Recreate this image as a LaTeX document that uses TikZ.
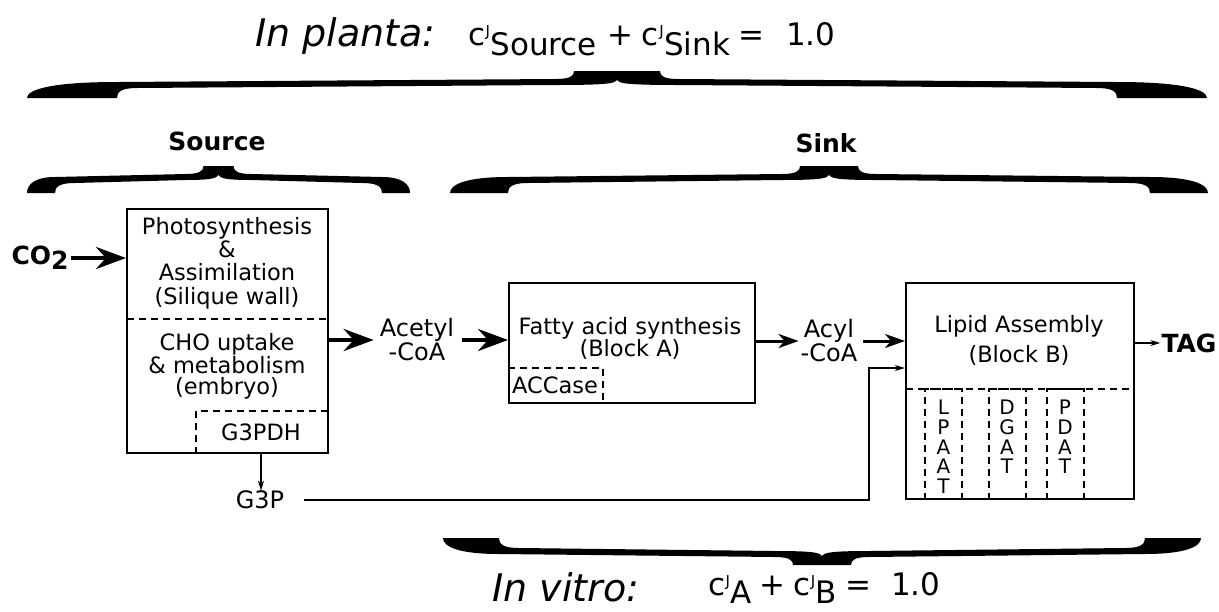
\documentclass[tikz,border=0pt]{standalone}
\usepackage{fontspec}
\setmainfont{DejaVu Sans}
\usetikzlibrary{arrows.meta}
\newcommand{\cJ}[1]{c\kern0.3pt\raisebox{9pt}{\fontsize{15}{15}\selectfont J}\kern0.5pt\raisebox{-10pt}{#1}}
\newcommand{\cJb}[1]{c\kern0.3pt\raisebox{9pt}{\fontsize{15}{15}\selectfont J}\kern0.5pt\raisebox{-8pt}{#1}}
% brace: x1, x2, xc, ybase, end width, tip half width, direction
\newcommand{\brc}[7]{%
\begin{scope}[shift={(0,#4)}, yscale=#7]
\fill ({#1},0) .. controls ({#1},9) and ({#1+0.3*#5},16) .. ({#1+#5},16)
 -- ({#3-#6-18},19) .. controls ({#3-#6-4},19) and ({#3-#6},22) .. ({#3-#6},27)
 -- ({#3+#6},27) .. controls ({#3+#6},22) and ({#3+#6+4},19) .. ({#3+#6+18},19)
 -- ({#2-#5},16) .. controls ({#2-0.3*#5},16) and ({#2},9) .. ({#2},0)
 -- ({#2-#5},0) .. controls ({#2-#5},6) and ({#2-#5-4},10) .. ({#2-#5-20},10)
 -- ({#3+#6+18},13) .. controls ({#3+6},13) and ({#3+2},15) .. ({#3},18)
 .. controls ({#3-2},15) and ({#3-6},13) .. ({#3-#6-18},13)
 -- ({#1+#5+20},10) .. controls ({#1+#5+4},10) and ({#1+#5},6) .. ({#1+#5},0) -- cycle;
\end{scope}}
\begin{document}
\begin{tikzpicture}[x=1pt,y=-1pt,
  box/.style={draw, line width=2pt, inner sep=0pt},
  dbox/.style={draw, line width=2pt, dash pattern=on 7pt off 5pt, inner sep=0pt},
  dline/.style={line width=2pt, dash pattern=on 7pt off 5pt},
  big/.style={line width=4.5pt, -{Stealth[length=30pt,width=22pt,inset=10pt]}},
  med/.style={line width=3pt, -{Stealth[length=20pt,width=14pt,inset=6pt]}},
  thin/.style={line width=1.3pt, -{Stealth[length=10pt,width=6pt,inset=3pt]}},
  lbl/.style={inner sep=0pt, font=\fontsize{22.5}{23.3}\selectfont, align=center},
  mol/.style={inner sep=0pt, font=\fontsize{24}{24}\selectfont, align=center},
  bold/.style={inner sep=0pt, font=\bfseries\fontsize{25}{25}\selectfont},
  letters/.style={inner sep=0pt, font=\fontsize{20}{19.7}\selectfont, align=center},
  eq/.style={inner sep=0pt, anchor=base west, font=\fontsize{31}{31}\selectfont},
  title/.style={inner sep=0pt, anchor=base west, font=\itshape\fontsize{38}{38}\selectfont}]
\useasboundingbox (0,0) rectangle (1219,611);

% titles
\node[title] (inplanta) at (255,46) {In planta:};
\node[eq] (fplanta) at (468,45) {\cJ{Source}\kern11pt+\kern8pt\cJ{Sink}\kern8pt=\kern22pt1.0};
\node[title] (invitro) at (492,601) {In vitro:};
\node[eq] (fvitro) at (708,595) {\cJb{A}\kern8pt+\kern8pt\cJb{B}\kern8pt=\kern20pt1.0};

% braces
\brc{27}{1207}{617}{98}{90}{43}{-1}
\brc{27}{410}{218.5}{193}{28}{15}{-1}
\brc{450}{1208}{829}{193}{58}{29}{-1}
\brc{443}{1201}{822}{538}{56}{29}{1}

\node[bold] (srclbl) at (217,141) {Source};
\node[bold] (sinklbl) at (826,143) {Sink};

% boxes
\node[box, minimum width=201pt, minimum height=244pt] (ps) at (227.5,331) {};
\node[box, minimum width=246pt, minimum height=120pt] (fas) at (632,343) {};
\node[box, minimum width=228pt, minimum height=216pt] (lip) at (1020,391) {};

% box 1 content
\node[lbl] (pstxt) at (227,263) {Photosynthesis\\\&\\Assimilation\\(Silique wall)};
\coordinate (psdiv) at (127,319);
\draw[dline] (psdiv) -- (psdiv -| ps.east);
\node[lbl, font=\fontsize{22.5}{21}\selectfont] (chotxt) at (227,366) {CHO uptake\\\& metabolism\\(embryo)};
\coordinate (g3pdhc) at (196,411);
\draw[dline] (g3pdhc |- ps.south) -- (g3pdhc) -- (g3pdhc -| ps.east);
\node[lbl] (g3pdh) at (261,432) {G3PDH};

% box 2 content
\node[lbl, font=\fontsize{22.5}{22}\selectfont] (fastxt) at (630,338) {Fatty acid synthesis\\(Block A)};
\coordinate (accc) at (603,368);
\draw[dline] (accc -| fas.west) -- (accc) -- (accc |- fas.south);
\node[lbl] (accase) at (555,385) {ACCase};

% box 3 content
\node[lbl, font=\fontsize{22.5}{30}\selectfont] (liptxt) at (1019,340) {Lipid Assembly\\(Block B)};
\coordinate (lipdiv) at (906,389);
\draw[dline] (lipdiv) -- (lipdiv -| lip.east);
\node[dbox, minimum width=37pt, minimum height=110pt] (lpaat) at (943.5,444) {};
\node[dbox, minimum width=37pt, minimum height=110pt] (dgat) at (1007,444) {};
\node[dbox, minimum width=37pt, minimum height=110pt] (pdat) at (1065,444) {};
\node[letters] (lpaatT) at (943.5,447) {L\\P\\A\\A\\T};
\node[letters] (dgatT) at (1007,437) {D\\G\\A\\T};
\node[letters] (pdatT) at (1065,437) {P\\D\\A\\T};

% metabolites
\node[bold] (co2) at (40,258) {CO\raisebox{-5pt}{2}};
\node[mol] (acetyl) at (417,340) {Acetyl\\-CoA};
\node[mol] (acyl) at (829,341) {Acyl\\-CoA};
\node[bold] (tag) at (1189,343) {TAG};
\node[mol] (g3p) at (260,500) {G3P};

% connectors
\draw[big] ([xshift=2pt]co2.east) -- (co2.east -| ps.west);
\draw[big] (ps.east |- acetyl) -- ([xshift=-6pt]acetyl.west);
\draw[big] ([xshift=8pt]acetyl.east) -- (acetyl.east -| fas.west);
\draw[med] (fas.east |- acyl) -- ([xshift=-2pt]acyl.west);
\draw[med] ([xshift=6pt]acyl.east) -- (acyl.east -| lip.west);
\draw[thin] (lip.east |- tag) -- ([xshift=-1pt]tag.west);
\draw[thin] (ps.south -| g3pdh) -- (g3pdh |- g3p.north);
\coordinate (bend) at (869,368);
\draw[thin] ([xshift=20pt]g3p.east) -| (bend) -- (bend -| lip.west);
\end{tikzpicture}
\end{document}
